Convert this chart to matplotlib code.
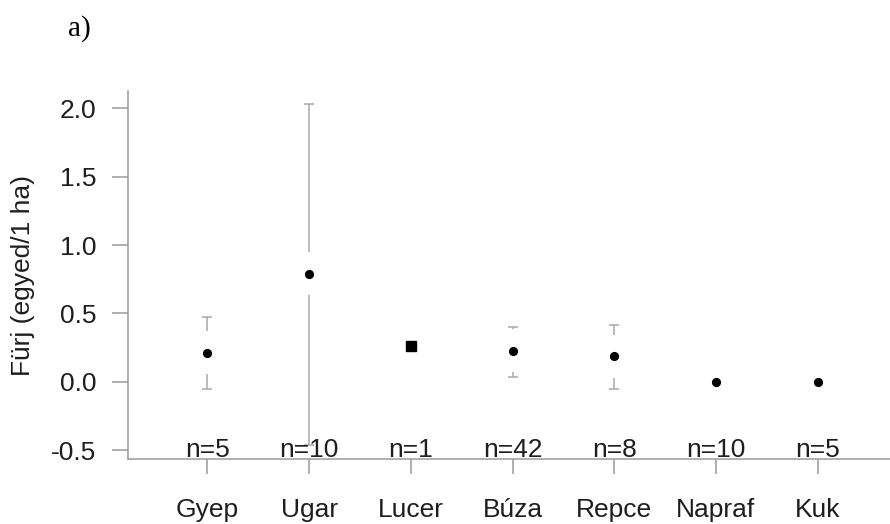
import numpy as np
import matplotlib
matplotlib.use("Agg")
import matplotlib.pyplot as plt

# ---- data ----
categories = ["Gyep", "Ugar", "Lucer", "Búza", "Repce", "Napraf", "Kuk"]
means = [0.21, 0.79, 0.26, 0.225, 0.185, 0.0, 0.0]
upper = [0.47, 2.03, np.nan, 0.40, 0.415, np.nan, np.nan]
lower = [-0.05, -0.46, np.nan, 0.035, -0.05, np.nan, np.nan]
n_counts = [5, 10, 1, 42, 8, 10, 5]
y_ticks = [-0.5, 0.0, 0.5, 1.0, 1.5, 2.0]
y_label = "Fürj (egyed/1 ha)"
panel_label = "a)"

# ---- style ----
FONT = ["Liberation Sans", "DejaVu Sans"]
plt.rcParams["font.family"] = FONT
AXIS_COL = "#9a9a9a"
ERR_COL = "#a8a8a8"
TXT_COL = "#1e1e1e"
FS = 19

fig = plt.figure(figsize=(8.9, 5.24), dpi=100)
ax = fig.add_axes([128 / 890, 1 - 459.3 / 524, 1 - 128 / 890, (459.3 - 90.7) / 524])
x = np.arange(1, len(categories) + 1)
ax.set_xlim(0.22, 7.711)
ax.set_ylim(-0.568, 2.129)

# gap around points (pixels) for error bars
gap_px = 21.5
fig.canvas.draw()
inv = ax.transData.inverted()

for xi, m, lo, hi, n in zip(x, means, lower, upper, n_counts):
    if not np.isnan(hi):
        px, py = ax.transData.transform((xi, m))
        _, y_top_gap = inv.transform((px, py + gap_px))
        _, y_bot_gap = inv.transform((px, py - gap_px))
        if hi > y_top_gap:
            ax.plot([xi, xi], [y_top_gap, hi], color=ERR_COL, lw=1.1, solid_capstyle="butt", zorder=2)
        if lo < y_bot_gap:
            ax.plot([xi, xi], [lo, y_bot_gap], color=ERR_COL, lw=1.1, solid_capstyle="butt", zorder=2)
        ax.plot([xi, xi], [hi, lo], linestyle="none", marker="_", markersize=7.5,
                markeredgewidth=1.1, color=ERR_COL, zorder=2)
    if n == 1:
        ax.plot(xi, m, marker="s", markersize=7.2, color="black", linestyle="none", zorder=3)
    else:
        ax.plot(xi, m, marker="o", markersize=5.6, color="black", linestyle="none", zorder=3)
    ax.annotate(f"n={n}", xy=(xi, -0.5), xytext=(0, 0), textcoords="offset points",
                ha="center", va="center", fontsize=FS, color=TXT_COL, zorder=4)

# axes styling
for s in ["top", "right"]:
    ax.spines[s].set_visible(False)
for s in ["left", "bottom"]:
    ax.spines[s].set_color(AXIS_COL)
    ax.spines[s].set_linewidth(1.1)

ax.set_xticks(x)
ax.set_xticklabels(categories)
ax.set_yticks(y_ticks)
ax.set_yticklabels([f"{v:.1f}" for v in y_ticks])
ax.tick_params(axis="y", direction="out", length=11.5, width=1.1, color=AXIS_COL,
               pad=11.5, labelsize=FS, labelcolor=TXT_COL)
ax.tick_params(axis="x", direction="out", length=11, width=1.1, color=AXIS_COL,
               pad=17, labelsize=FS, labelcolor=TXT_COL)

fig.text(23 / 890, 1 - 275 / 524, y_label, rotation=90, ha="center", va="center",
         fontsize=FS, color=TXT_COL)
fig.text(68 / 890, 1 - 29 / 524, panel_label, ha="left", va="center",
         fontsize=21, color="black", family=["Liberation Serif", "DejaVu Serif"])

fig.savefig("out.png", dpi=100)
